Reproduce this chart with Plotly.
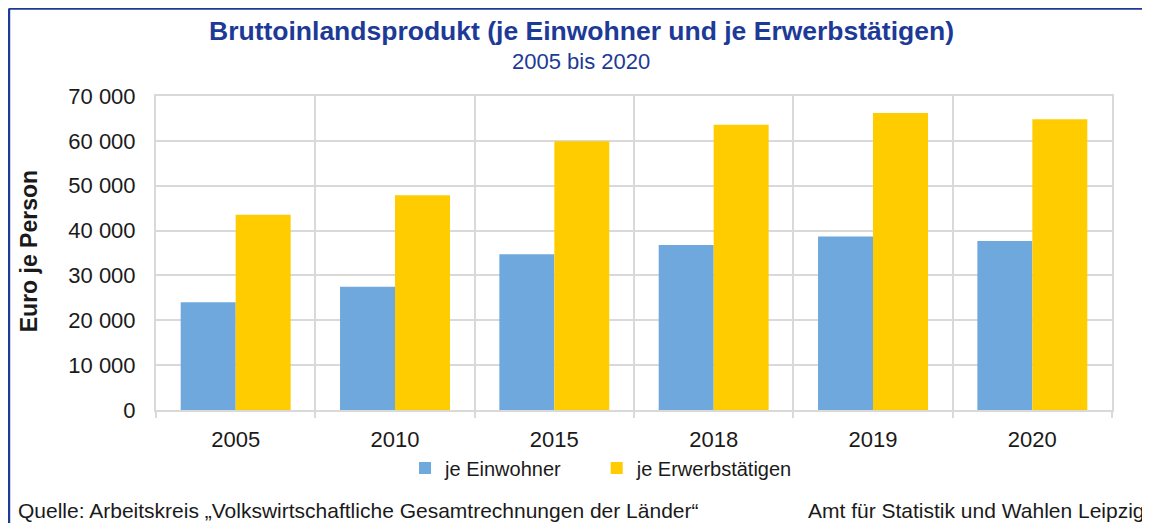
import plotly.graph_objects as go

BLUE = "#6FA8DC"
YELLOW = "#FFCC00"
NAVY = "#1C3A96"
GRID = "#D9D9D9"
INK = "#1A1A1A"
FONT = "Liberation Sans, Arial, sans-serif"

years = ["2005", "2010", "2015", "2018", "2019", "2020"]
je_einwohner = [24000, 27500, 34700, 36800, 38700, 37700]
je_erwerbstaetigen = [43500, 47900, 59900, 63600, 66200, 64800]

fig = go.Figure()
fig.add_trace(go.Bar(x=years, y=je_einwohner, name="je Einwohner", marker_color=BLUE, legend="legend"))
fig.add_trace(go.Bar(x=years, y=je_erwerbstaetigen, name="je Erwerbstätigen", marker_color=YELLOW,
                     legend="legend2"))
fig.update_traces(marker_line_width=0, showlegend=True)

# page has an 8px body margin, so the figure is 8px smaller than the window
fig.update_layout(
    width=1142,
    height=515,
    margin=dict(l=148, r=38, t=88, b=113),
    paper_bgcolor="white",
    plot_bgcolor="white",
    font=dict(family=FONT, color=INK, size=22),
    separators=", ",
    barmode="group",
    bargap=0.31,
    bargroupgap=0,
    showlegend=True,
    legend=dict(orientation="h", x=0.2605, xanchor="left", y=-0.185, yanchor="middle",
                font=dict(size=20), itemwidth=30),
    legend2=dict(orientation="h", x=0.461, xanchor="left", y=-0.185, yanchor="middle",
                 font=dict(size=20), itemwidth=30),
)

fig.update_xaxes(
    type="category", tickson="boundaries", showgrid=True, gridcolor=GRID, gridwidth=2,
    showline=True, linecolor=GRID, linewidth=2, mirror=True,
    ticks="outside", ticklen=6, tickcolor=GRID, tickwidth=2, ticklabelstandoff=9,
    tickfont=dict(size=22),
)
fig.update_yaxes(
    range=[0, 70000], dtick=10000, tickformat=",", showgrid=True, gridcolor=GRID, gridwidth=2,
    showline=True, linecolor=GRID, linewidth=2, mirror=True, zeroline=False,
    ticks="", ticklabelstandoff=14, tickfont=dict(size=22),
)

fig.add_annotation(
    text="<b>Bruttoinlandsprodukt (je Einwohner und je Erwerbstätigen)</b>",
    xref="paper", yref="paper", x=0.4456, y=1.208, xanchor="center", yanchor="middle",
    showarrow=False, font=dict(size=26.5, color=NAVY),
)
fig.add_annotation(
    text="2005 bis 2020", xref="paper", yref="paper", x=0.4445, y=1.111,
    xanchor="center", yanchor="middle", showarrow=False, font=dict(size=22, color=NAVY),
)
fig.add_annotation(
    text="<b>Euro je Person</b>", xref="paper", yref="paper", x=-0.132, y=0.505,
    xanchor="center", yanchor="middle", textangle=-90, showarrow=False, font=dict(size=23),
)
fig.add_annotation(
    text="Quelle: Arbeitskreis „Volkswirtschaftliche Gesamtrechnungen der Länder“",
    xref="paper", yref="paper", x=-0.1464, y=-0.3185, xanchor="left", yanchor="middle",
    showarrow=False, font=dict(size=21),
)
fig.add_annotation(
    text="Amt für Statistik und Wahlen Leipzig",
    xref="paper", yref="paper", x=1.0366, y=-0.3185, xanchor="right", yanchor="middle",
    showarrow=False, font=dict(size=21),
)
# frame: only the top and left edges are visible in the window
fig.add_shape(type="line", xref="paper", yref="paper", x0=-0.1538, y0=1.2787, x1=1.1, y1=1.2787,
              line=dict(color=NAVY, width=2.5), layer="above")
fig.add_shape(type="line", xref="paper", yref="paper", x0=-0.1538, y0=-0.6, x1=-0.1538, y1=1.2787,
              line=dict(color=NAVY, width=2.5), layer="above")

fig.write_html("out.html")
